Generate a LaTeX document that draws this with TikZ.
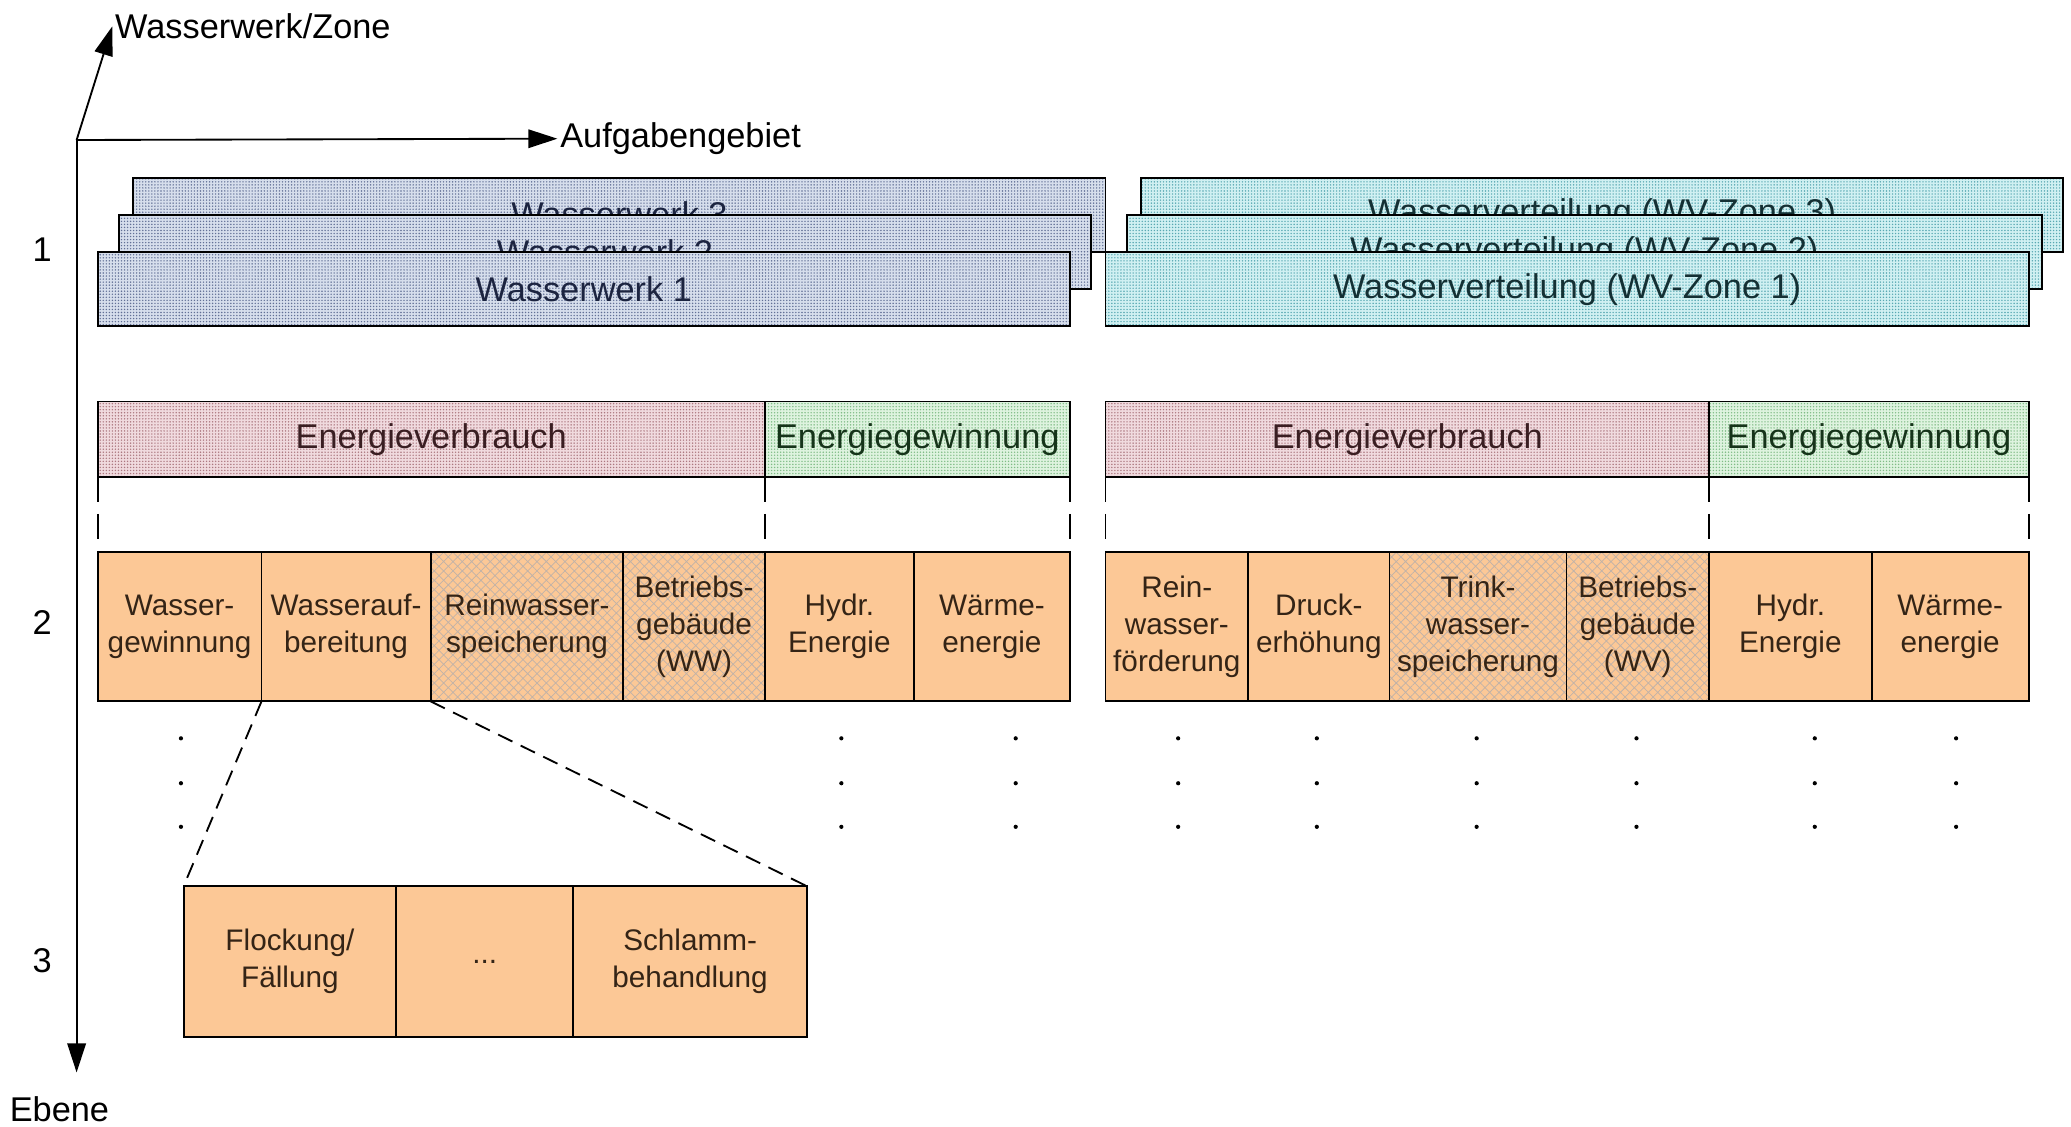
\documentclass[tikz,border=0pt]{standalone}
\usepackage{fontspec}
\setmainfont{Liberation Sans}
\usetikzlibrary{arrows.meta,patterns.meta}
\definecolor{wwbase}{RGB}{214,222,236}
\definecolor{wwdot}{RGB}{98,112,150}
\definecolor{wwtext}{RGB}{28,36,64}
\definecolor{wvbase}{RGB}{208,240,242}
\definecolor{wvdot}{RGB}{88,168,178}
\definecolor{wvtext}{RGB}{20,48,52}
\definecolor{evbase}{RGB}{240,218,222}
\definecolor{evdot}{RGB}{172,120,128}
\definecolor{evtext}{RGB}{58,30,34}
\definecolor{egbase}{RGB}{222,243,223}
\definecolor{egdot}{RGB}{128,188,134}
\definecolor{egtext}{RGB}{22,52,26}
\definecolor{orangefill}{RGB}{252,200,150}
\definecolor{hatchcol}{RGB}{192,178,168}
\definecolor{ortext}{RGB}{52,36,22}
\newcommand\fontBig{\fontsize{26pt}{30pt}\selectfont}
\newcommand\fontSmall{\fontsize{22.5pt}{28pt}\selectfont}
\begin{document}
\begin{tikzpicture}[x=1pt,y=-1pt,
  box/.style={draw=black, line width=1.4pt, outer sep=0pt, inner sep=0pt, align=center},
  dotbox/.style n args={3}{box, preaction={fill=#1},
     preaction={pattern={Dots[radius=0.6pt,distance=2.3pt]}, pattern color=#2},
     text=#3, font=\fontBig},
  wwbox/.style={dotbox={wwbase}{wwdot}{wwtext}, minimum height=56pt},
  wvbox/.style={dotbox={wvbase}{wvdot}{wvtext}, minimum height=56pt},
  evbox/.style={dotbox={evbase}{evdot}{evtext}, minimum height=57pt},
  egbox/.style={dotbox={egbase}{egdot}{egtext}, minimum height=57pt},
  obox/.style={box, fill=orangefill, text=ortext, font=\fontSmall},
  l2box/.style={obox, minimum height=113pt},
  l3box/.style={obox, minimum height=114pt},
  hatched/.style={fill=none, preaction={fill=orangefill},
     preaction={pattern={Hatch[angle=45,distance=5pt,line width=0.55pt]}, pattern color=hatchcol}},
  axis/.style={line width=1.4pt, -{Triangle[length=22pt,width=14pt]}},
  dashv/.style={line width=1.4pt, dash pattern=on 19pt off 9pt},
  dashz/.style={line width=1.4pt, dash pattern=on 12pt off 7pt},
  lbl/.style={font=\fontBig, text=black, inner sep=2pt},
  ]
\useasboundingbox (0,0) rectangle (1568,853);

% axes
\coordinate (O) at (58,106);
\coordinate (ze) at (58,812);
\node[lbl, anchor=west] (lx) at (422,105) {Aufgabengebiet};
\node[lbl, anchor=west] (ly) at (85,20) {Wasserwerk/Zone};
\node[lbl] (lz) at (45,840) {Ebene};
\draw[axis] (O) -- (lx.west);
\draw[axis] (O) -- (ly.west);
\draw[axis] (O) -- (ze);
\node[lbl] (n1) at (32,189) {1};
\node[lbl] (n2) at (32,471) {2};
\node[lbl] (n3) at (32,727) {3};

% level 1
\node[wwbox, minimum width=736pt] (ww3) at (469,162.5) {Wasserwerk 3};
\node[wwbox, minimum width=736pt] (ww2) at (458,191) {Wasserwerk 2};
\node[wwbox, minimum width=736pt] (ww1) at (442,219) {Wasserwerk 1};
\node[wvbox, minimum width=698pt] (wv3) at (1213,162.5) {Wasserverteilung (WV-Zone 3)};
\node[wvbox, minimum width=693pt] (wv2) at (1199.5,191) {Wasserverteilung (WV-Zone 2)};
\node[wvbox, minimum width=699pt] (wv1) at (1186.5,219) {Wasserverteilung (WV-Zone 1)};

% energy row
\node[evbox, minimum width=505pt] (evl) at (326.5,332.5) {Energieverbrauch};
\node[egbox, minimum width=231pt] (egl) at (694.5,332.5) {Energiegewinnung};
\node[evbox, minimum width=457pt] (evr) at (1065.5,332.5) {Energieverbrauch};
\node[egbox, minimum width=242pt] (egr) at (1415,332.5) {Energiegewinnung};

% level 2 left
\node[l2box, minimum width=124pt] (a1) at (136,474.5) {Wasser-\\gewinnung};
\node[l2box, minimum width=128pt] (a2) at (262,474.5) {Wasserauf-\\bereitung};
\node[l2box, hatched, minimum width=146pt] (a3) at (399,474.5) {Reinwasser-\\speicherung};
\node[l2box, hatched, minimum width=107pt] (a4) at (525.5,474.5) {Betriebs-\\gebäude\\(WW)};
\node[l2box, minimum width=113pt] (a5) at (635.5,474.5) {Hydr.\\Energie};
\node[l2box, minimum width=118pt] (a6) at (751,474.5) {Wärme-\\energie};

% level 2 right
\node[l2box, minimum width=108pt] (b1) at (891,474.5) {Rein-\\wasser-\\förderung};
\node[l2box, minimum width=107pt] (b2) at (998.5,474.5) {Druck-\\erhöhung};
\node[l2box, hatched, minimum width=134pt] (b3) at (1119,474.5) {Trink-\\wasser-\\speicherung};
\node[l2box, hatched, minimum width=108pt] (b4) at (1240,474.5) {Betriebs-\\gebäude\\(WV)};
\node[l2box, minimum width=123pt] (b5) at (1355.5,474.5) {Hydr.\\Energie};
\node[l2box, minimum width=119pt] (b6) at (1476.5,474.5) {Wärme-\\energie};

% level 3
\node[l3box, minimum width=161pt] (c1) at (219.5,728) {Flockung/\\Fällung};
\node[l3box, minimum width=134pt] (c2) at (367,728) {...};
\node[l3box, minimum width=177pt] (c3) at (522.5,728) {Schlamm-\\behandlung};

% dashed connectors energy -> level 2
\draw[dashv] (evl.south west) -- (a1.north west);
\draw[dashv] (evl.south east) -- (a5.north west);
\draw[dashv] (egl.south east) -- (a6.north east);
\draw[dashv] (evr.south west) -- (b1.north west);
\draw[dashv] (evr.south east) -- (b5.north west);
\draw[dashv] (egr.south east) -- (b6.north east);

% zoom connectors
\draw[dashz] (a2.south west) -- (c1.north west);
\draw[dashz] (a2.south east) -- (c3.north east);

% continuation dots
\foreach \x in {137,637,769,892,997,1118,1239,1374,1481}
  \foreach \y in {559,593,626}
    \fill (\x,\y) circle (1.6pt);
\end{tikzpicture}
\end{document}
